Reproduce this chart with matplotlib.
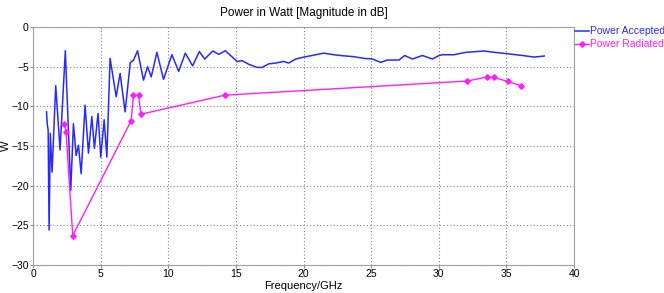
import matplotlib.pyplot as plt

# Power accepted (blue)
acc_freq = [1.0, 1.05, 1.12, 1.19, 1.28, 1.41, 1.68, 2.0, 2.39, 2.79, 2.99, 3.19, 3.36, 3.56,
            3.85, 4.1, 4.35, 4.54, 4.81, 5.01, 5.26, 5.46, 5.7, 6.15, 6.44, 6.81, 7.19, 7.43,
            7.73, 8.17, 8.47, 8.74, 9.16, 9.65, 10.27, 10.77, 11.26, 11.8, 12.3, 12.69, 13.3,
            13.73, 14.22, 15.09, 15.46, 15.95, 16.57, 16.94, 17.43, 17.93, 18.54, 18.91, 19.41,
            20.02, 20.76, 21.5, 22.24, 22.74, 23.73, 24.47, 25.09, 25.7, 26.2, 27.06, 27.48,
            28.05, 28.79, 29.53, 30.02, 30.27, 31.13, 32.0, 33.36, 34.1, 34.84, 36.2, 37.06, 37.8]
acc_db = [-10.7, -12.2, -13.0, -25.6, -13.4, -18.3, -7.4, -15.5, -3.0, -20.6, -12.2, -16.2, -14.9, -18.5,
          -9.85, -15.9, -11.3, -15.3, -10.9, -16.4, -11.7, -16.4, -3.96, -8.8, -5.85, -10.7, -4.5, -4.2,
          -3.0, -6.7, -5.0, -6.3, -3.2, -6.6, -3.5, -5.6, -3.3, -4.9, -3.1, -4.04, -3.03,
          -3.45, -3.0, -4.35, -4.25, -4.7, -5.1, -5.1, -4.65, -4.55, -4.35, -4.55, -4.05,
          -3.8, -3.55, -3.3, -3.5, -3.6, -3.75, -3.96, -4.04, -4.46, -4.17, -4.17, -3.6,
          -4.04, -3.6, -4.04, -3.6, -3.5, -3.5, -3.2, -3.03, -3.2, -3.33, -3.6, -3.8, -3.66]

# Power radiated (magenta)
rad_freq = [2.32, 2.44, 2.94, 7.26, 7.43, 7.8, 7.98, 14.17, 32.07, 33.56, 34.05, 35.09, 36.07]
rad_db = [-12.2, -13.2, -26.3, -11.8, -8.6, -8.6, -11.0, -8.6, -6.82, -6.31, -6.35, -6.86, -7.41]

plt.rcParams['font.family'] = ['Liberation Sans', 'DejaVu Sans']

fig = plt.figure(figsize=(6.64, 2.93), dpi=100)
ax = fig.add_axes([0.0497, 0.0956, 0.8148, 0.8124])

ax.plot(acc_freq, acc_db, color='#2828ff', lw=1.1, label='Power Accepted')
ax.plot(rad_freq, rad_db, color='#ff1eff', lw=1.0, marker='D', ms=2.8,
        label='Power Radiated')

ax.set_xlim(0, 40)
ax.set_ylim(-30, 0)
ax.set_xticks(range(0, 41, 5))
ax.set_yticks(range(-30, 1, 5))
ax.grid(True, color='#808080', ls=(0, (1, 2)), lw=0.8)
ax.tick_params(labelsize=7.5, length=2, color='#909090', pad=1)
for s in ax.spines.values():
    s.set_color('#a0a0a0')

ax.set_title('Power in Watt [Magnitude in dB]', fontsize=8.5, pad=8)
ax.set_xlabel('Frequency/GHz', fontsize=8, labelpad=1)
ax.set_ylabel('W', fontsize=8)
ax.yaxis.set_label_coords(-0.041, 0.5)

ax.legend(loc='upper left', bbox_to_anchor=(0.995, 1.02), frameon=False, fontsize=7.5,
          handlelength=1.3, handletextpad=0.05, borderaxespad=0, labelspacing=0.3)
leg = ax.get_legend()
for t, c in zip(leg.get_texts(), ['#2828ff', '#ff1eff']):
    t.set_color(c)

fig.savefig('out.png', dpi=100)
